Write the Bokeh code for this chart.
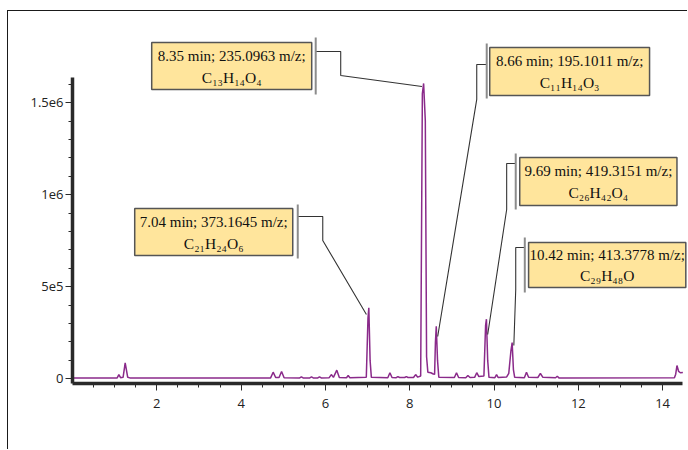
from math import pi
from bokeh.plotting import figure
from bokeh.models import Range1d, FixedTicker, Label
from bokeh.layouts import column
from bokeh.embed import file_html
from bokeh.resources import INLINE
from bokeh.core.properties import value

# ---------------- data ----------------
rt_min = [
    0.00, 1.06, 1.10, 1.14, 1.20, 1.25, 1.31, 1.36,
    4.70, 4.76, 4.82, 4.90, 4.96, 5.02,
    5.39, 5.43, 5.47, 5.63, 5.67, 5.71, 5.82, 5.86, 5.90,
    6.09, 6.14, 6.19, 6.27, 6.33, 6.50, 6.54, 6.58,
    6.97, 7.01, 7.03, 7.06, 7.09,
    7.48, 7.53, 7.58, 7.68, 7.72, 7.76, 7.88, 7.92, 7.96,
    8.09, 8.14, 8.19, 8.26, 8.30, 8.33, 8.37, 8.40, 8.43, 8.50, 8.56, 8.59,
    8.61, 8.63, 8.66, 8.69,
    9.06, 9.11, 9.16, 9.33, 9.38, 9.43, 9.54, 9.59, 9.64,
    9.76, 9.80, 9.82, 9.85, 9.88,
    10.02, 10.06, 10.10, 10.30, 10.35, 10.40, 10.43, 10.46, 10.49,
    10.72, 10.77, 10.82, 11.04, 11.10, 11.16, 11.46, 11.50, 11.54,
    14.28, 14.31, 14.34, 14.38, 14.42, 14.48,
]
bpi_counts = [
    5000, 5000, 23000, 6000, 8000, 87000, 8000, 5000,
    5000, 36000, 7000, 7000, 40000, 6000,
    5000, 11000, 5000, 5000, 10000, 5000, 5000, 11000, 5000,
    6000, 23000, 8000, 47000, 7000, 6000, 18000, 6000,
    8000, 330000, 386000, 100000, 8000,
    6000, 33000, 7000, 6000, 12000, 7000, 7000, 12000, 7000,
    7000, 23000, 9000, 15000, 1550000, 1605000, 1400000, 120000, 36000, 33000, 26000, 24000,
    200000, 286000, 100000, 9000,
    7000, 33000, 7000, 6000, 18000, 7000, 8000, 33000, 12000,
    15000, 290000, 324000, 100000, 8000,
    6000, 23000, 7000, 10000, 30000, 150000, 197000, 50000, 8000,
    6000, 36000, 8000, 7000, 29000, 8000, 6000, 14000, 5000,
    6000, 25000, 72000, 40000, 33000, 34000,
]

x_ticks = [2, 4, 6, 8, 10, 12, 14]
x_minor_ticks = [0.5 * i for i in range(1, 29)]
y_ticks = [0, 500000, 1000000, 1500000]
y_tick_labels = ["0", "5e5", "1e6", "1.5e6"]
y_minor_ticks = [100000 * i for i in range(0, 17)]

# peak annotations
ann_line1 = [
    "8.35 min; 235.0963 m/z;",
    "8.66 min; 195.1011 m/z;",
    "7.04 min; 373.1645 m/z;",
    "9.69 min; 419.3151 m/z;",
    "10.42 min; 413.3778 m/z;",
]
ann_formula = ["C₁₃H₁₄O₄", "C₁₁H₁₄O₃", "C₂₁H₂₄O₆", "C₂₆H₄₂O₄", "C₂₉H₄₈O"]

# ---------------- layout of the annotation boxes (data units) ----------------
box_left = [1.879, 9.898, 1.476, 10.61, 10.82]
box_right = [5.675, 13.69, 5.225, 14.34, 14.55]
box_top = [1827700, 1800500, 925500, 1202700, 740800]
box_bottom = [1572300, 1539700, 670100, 941900, 496200]
bar_x = [5.770, 9.827, 5.344, 10.515, 10.73]
bar_y0 = [1854900, 1822300, 947300, 1224500, 767900]
bar_y1 = [1545100, 1523400, 653800, 920100, 469000]
leader_xs = [
    [5.770, 6.363, 6.363, 8.29],
    [9.827, 9.590, 9.590, 8.664],
    [5.344, 5.937, 5.937, 6.973],
    [10.515, 10.30, 10.30, 9.85],
    [10.73, 10.515, 10.515, 10.47],
]
leader_ys = [
    [1778800, 1778800, 1648400, 1588600],
    [1708200, 1708200, 1517900, 229900],
    [882100, 882100, 751600, 349500],
    [1170100, 1170100, 920100, 240800],
    [713600, 713600, 485300, 181000],
]

X_START, X_END = 0.0, 14.59
Y_START, Y_END = -25500, 1898000

p = figure(
    width=679, height=438,
    x_range=Range1d(X_START, X_END), y_range=Range1d(Y_START, Y_END),
    output_backend="svg", toolbar_location=None,
    min_border_left=64, min_border_right=0, min_border_top=18, min_border_bottom=66,
)
p.outline_line_color = None
p.grid.visible = False
p.background_fill_color = "white"
p.border_fill_color = "white"

# trace
p.line(rt_min, bpi_counts, line_color="#8a2a8a", line_width=1.5)

# annotations
p.multi_line(leader_xs, leader_ys, line_color="#333333", line_width=1.1)
p.segment(x0=bar_x, y0=bar_y0, x1=bar_x, y1=bar_y1, line_color="#8c8c8c", line_width=2)
p.quad(left=box_left, right=box_right, top=box_top, bottom=box_bottom,
       fill_color="#ffe59c", line_color="#555555", line_width=1.5)
cx = [(l + r) / 2 for l, r in zip(box_left, box_right)]
ty1 = [t - 0.28 * (t - b) for t, b in zip(box_top, box_bottom)]
ty2 = [t - 0.74 * (t - b) for t, b in zip(box_top, box_bottom)]
p.text(x=cx, y=ty1, text=ann_line1, text_align="center", text_baseline="middle",
       text_font=value("Liberation Serif"), text_font_size="15px", text_color="#111111")
p.text(x=cx, y=ty2, text=ann_formula, text_align="center", text_baseline="middle",
       text_font=value("Liberation Serif"), text_font_size="15.5px", text_color="#111111")

# axes
for ax in (p.xaxis[0], p.yaxis[0]):
    ax.axis_line_color = "#2a2a2a"
    ax.axis_line_width = 3.5
    ax.major_tick_line_color = "#2a2a2a"
    ax.minor_tick_line_color = "#2a2a2a"
    ax.major_tick_in = 0
    ax.minor_tick_in = 0
    ax.major_tick_out = 7
    ax.minor_tick_out = 4
    ax.major_label_text_font = "Open Sans"
    ax.major_label_text_font_size = "13px"
    ax.major_label_text_color = "#222222"

p.xaxis.ticker = FixedTicker(ticks=x_ticks, minor_ticks=x_minor_ticks)
p.xaxis.bounds = (0, 14.48)
p.xaxis.major_label_standoff = 8
p.yaxis.ticker = FixedTicker(ticks=y_ticks, minor_ticks=y_minor_ticks)
p.yaxis.major_label_overrides = {t: s for t, s in zip(y_ticks, y_tick_labels)}
p.yaxis.bounds = (Y_START, 1637000)
p.yaxis.major_label_standoff = 2

p.add_layout(Label(x=7.98, y=-314000, text="Retention time [min]", text_align="center",
                   text_baseline="middle", text_font="Open Sans",
                   text_font_size="13px", text_color="#222222"))
p.add_layout(Label(x=-1.2, y=811000, text="BPI [Counts]", angle=pi / 2, text_align="center",
                   text_baseline="middle", text_font="Open Sans",
                   text_font_size="13px", text_color="#222222"))

layout = column(p, styles={"border-top": "1.5px solid #1a1a1a",
                           "border-left": "1.5px solid #1a1a1a",
                           "margin-left": "7px", "margin-top": "10px"})

open("out.html", "w").write(file_html(layout, INLINE))
